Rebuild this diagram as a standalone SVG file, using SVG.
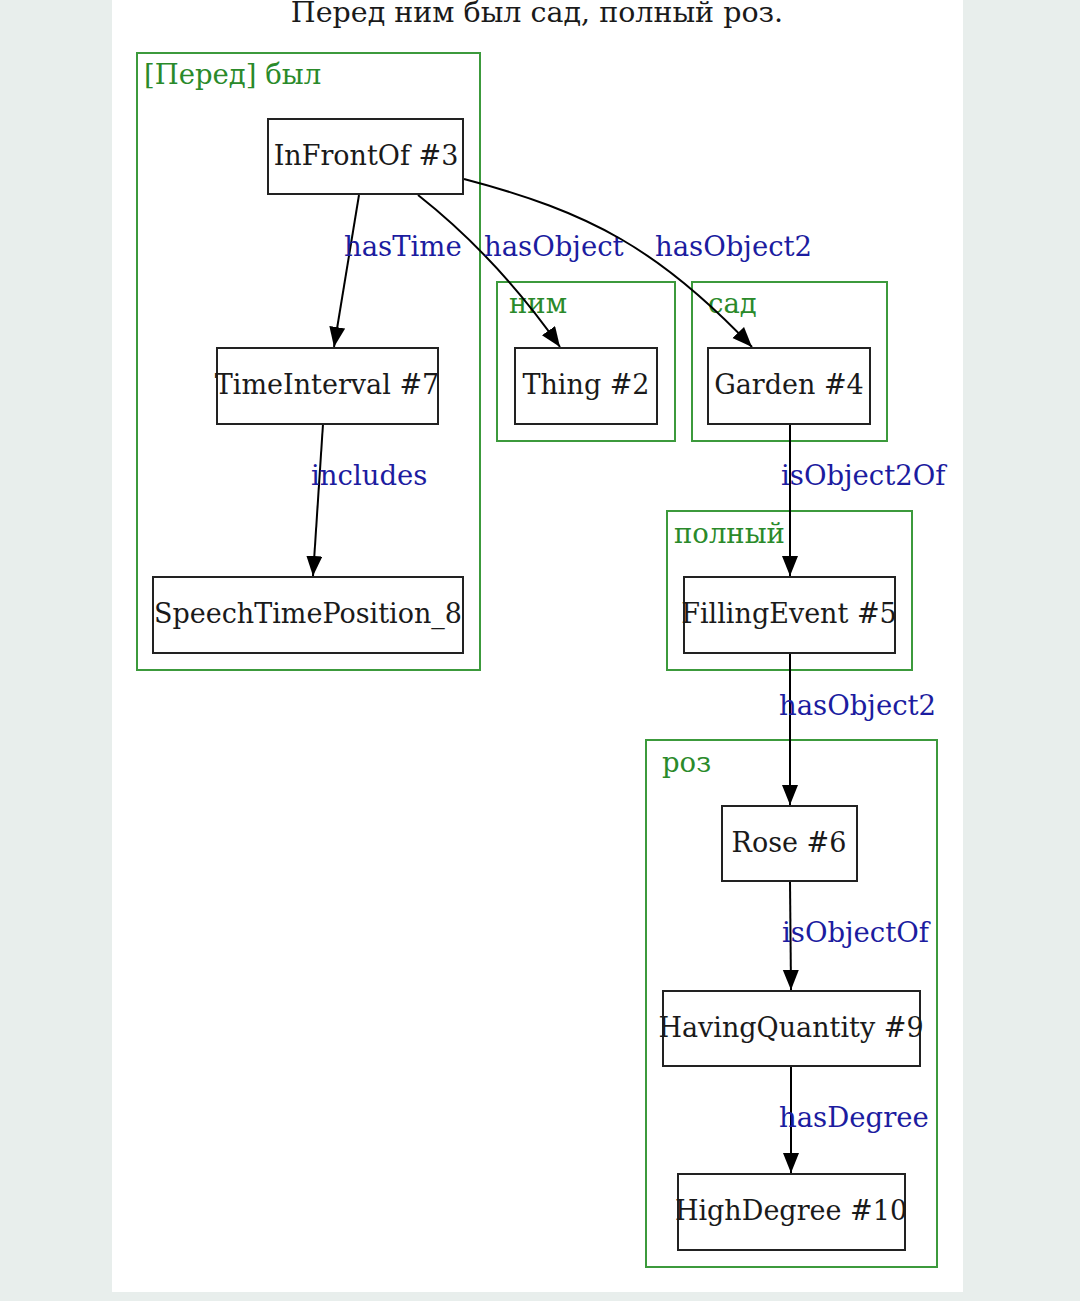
<svg xmlns="http://www.w3.org/2000/svg" width="1080" height="1301" viewBox="0 0 1080 1301">
<defs>
<style>
.node rect{fill:#fff;stroke:#222;stroke-width:2}
.node text{font-family:"DejaVu Serif","Liberation Serif",serif;font-size:27px;fill:#1a1a1a;text-anchor:middle}
.cluster rect{fill:none;stroke:#3c9a3c;stroke-width:2}
.cluster text{font-family:"DejaVu Serif","Liberation Serif",serif;font-size:27.5px;fill:#2a8a2a}
.edge path{fill:none;stroke:#000;stroke-width:2}
.lbl{font-family:"DejaVu Serif","Liberation Serif",serif;font-size:27.5px;fill:#1c1ca0}
</style>
<marker id="arr" markerUnits="userSpaceOnUse" markerWidth="22" markerHeight="18" refX="20" refY="8" orient="auto">
<path d="M0,0 L20,8 L0,16 z" fill="#000"/>
</marker>
</defs>
<rect x="0" y="0" width="1080" height="1301" fill="#e8eeec"/>
<rect x="112" y="0" width="851" height="1292" fill="#fff"/>
<text x="537" y="22" style="font-family:'DejaVu Serif','Liberation Serif',serif;font-size:28.5px;fill:#1a1a1a;text-anchor:middle">Перед ним был сад, полный роз.</text>

<g id="cluster_pered" class="cluster"><rect x="137" y="53" width="343" height="617"/><text x="144" y="84">[Перед] был</text></g>
<g id="cluster_nim" class="cluster"><rect x="497" y="282" width="178" height="159"/><text x="509" y="313">ним</text></g>
<g id="cluster_sad" class="cluster"><rect x="692" y="282" width="195" height="159"/><text x="708" y="313">сад</text></g>
<g id="cluster_polny" class="cluster"><rect x="667" y="511" width="245" height="159"/><text x="674" y="543">полный</text></g>
<g id="cluster_roz" class="cluster"><rect x="646" y="740" width="291" height="527"/><text x="662" y="772">роз</text></g>

<g id="edges">
<g class="edge"><path d="M359,195 L334,347" marker-end="url(#arr)"/><text class="lbl" x="344" y="256">hasTime</text></g>
<g class="edge"><path d="M418,195 C470,236 520,290 560,347" marker-end="url(#arr)"/><text class="lbl" x="484" y="256">hasObject</text></g>
<g class="edge"><path d="M464,179 C590,212 660,250 752,347" marker-end="url(#arr)"/><text class="lbl" x="655" y="256">hasObject2</text></g>
<g class="edge"><path d="M323,424 L313,576" marker-end="url(#arr)"/><text class="lbl" x="311" y="485">includes</text></g>
<g class="edge"><path d="M790,424 L790,576" marker-end="url(#arr)"/><text class="lbl" x="781" y="485">isObject2Of</text></g>
<g class="edge"><path d="M790,653 L790,805" marker-end="url(#arr)"/><text class="lbl" x="779" y="715">hasObject2</text></g>
<g class="edge"><path d="M790,881 L791,990" marker-end="url(#arr)"/><text class="lbl" x="782" y="942">isObjectOf</text></g>
<g class="edge"><path d="M791,1066 L791,1173" marker-end="url(#arr)"/><text class="lbl" x="779" y="1127">hasDegree</text></g>
</g>

<g id="n3" class="node"><rect x="268" y="119" width="195" height="75"/><text x="366" y="165">InFrontOf #3</text></g>
<g id="n7" class="node"><rect x="217" y="348" width="221" height="76"/><text x="327" y="394">TimeInterval #7</text></g>
<g id="n8" class="node"><rect x="153" y="577" width="310" height="76"/><text x="308" y="623">SpeechTimePosition_8</text></g>
<g id="n2" class="node"><rect x="515" y="348" width="142" height="76"/><text x="586" y="394">Thing #2</text></g>
<g id="n4" class="node"><rect x="708" y="348" width="162" height="76"/><text x="789" y="394">Garden #4</text></g>
<g id="n5" class="node"><rect x="684" y="577" width="211" height="76"/><text x="789" y="623">FillingEvent #5</text></g>
<g id="n6" class="node"><rect x="722" y="806" width="135" height="75"/><text x="789" y="852">Rose #6</text></g>
<g id="n9" class="node"><rect x="663" y="991" width="257" height="75"/><text x="791" y="1037">HavingQuantity #9</text></g>
<g id="n10" class="node"><rect x="678" y="1174" width="227" height="76"/><text x="791" y="1220">HighDegree #10</text></g>
</svg>
